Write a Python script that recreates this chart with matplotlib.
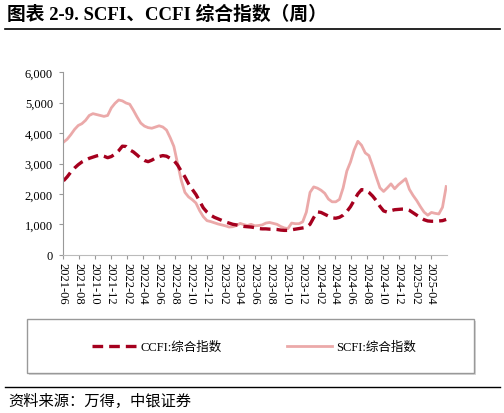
import numpy as np
import pandas as pd
import matplotlib
matplotlib.use("Agg")
import matplotlib.pyplot as plt
from matplotlib.patches import Rectangle
from matplotlib.lines import Line2D
from matplotlib.ticker import FuncFormatter

# fonts: serif latin, CJK fallback
FONTS = ['Liberation Serif', 'Noto Sans CJK SC', 'DejaVu Sans']
plt.rcParams['font.family'] = FONTS

# biweekly readings, 2021-06-04 .. 2025-05-30
dates = pd.date_range(start='2021-06-04', periods=105, freq='14D')

scfi = [3700, 3800, 3950, 4120, 4250, 4310, 4420, 4580, 4640, 4610,
        4580, 4550, 4580, 4830, 4980, 5090, 5060, 4990, 4950, 4750,
        4530, 4330, 4230, 4180, 4160, 4200, 4240, 4200, 4100, 3850,
        3560, 3000, 2450, 2050, 1900, 1810, 1700, 1450, 1250, 1120,
        1090, 1050, 1010, 980, 950, 910, 920, 960, 1030, 990,
        960, 1000, 950, 960, 980, 1040, 1060, 1030, 1000, 930,
        880, 860, 1040, 1020, 1020, 1080, 1400, 2050, 2230, 2190,
        2120, 2020, 1830, 1740, 1740, 1820, 2200, 2750, 3050, 3450,
        3730, 3600, 3350, 3260, 2920, 2550, 2200, 2080, 2200, 2330,
        2170, 2300, 2400, 2500, 2150, 1950, 1780, 1580, 1400, 1300,
        1390, 1360, 1340, 1560, 2240]

ccfi = [2430, 2560, 2720, 2850, 2960, 3050, 3110, 3170, 3210, 3250,
        3280, 3240, 3190, 3230, 3310, 3420, 3570, 3560, 3450, 3380,
        3280, 3170, 3100, 3060, 3110, 3180, 3230, 3260, 3240, 3170,
        3100, 2950, 2750, 2560, 2330, 2150, 1980, 1760, 1540, 1400,
        1300, 1230, 1180, 1130, 1080, 1040, 1000, 980, 950, 930,
        920, 910, 890, 860, 850, 850, 840, 840, 830, 810,
        800, 800, 820, 840, 860, 880, 900, 1000, 1220, 1410,
        1390, 1330, 1270, 1210, 1200, 1230, 1300, 1420, 1580, 1790,
        2000, 2140, 2130, 2050, 1930, 1780, 1590, 1440, 1400, 1450,
        1480, 1490, 1500, 1500, 1460, 1380, 1300, 1220, 1150, 1110,
        1100, 1100, 1110, 1120, 1160]

tick_labels = ['2021-06', '2021-08', '2021-10', '2021-12', '2022-02', '2022-04',
               '2022-06', '2022-08', '2022-10', '2022-12', '2023-02', '2023-04',
               '2023-06', '2023-08', '2023-10', '2023-12', '2024-02', '2024-04',
               '2024-06', '2024-08', '2024-10', '2024-12', '2025-02', '2025-04']

ccfi_color = '#A5001E'
scfi_color = '#EBA9A9'

fig = plt.figure(figsize=(5.04, 4.14), dpi=100)
W, H = 504, 414

# title + rules
fig.text(7 / W, 1 - 15 / H, '图表 2-9. SCFI、CCFI 综合指数（周）', fontsize=13.5,
         fontweight='bold', va='center', ha='left', family=FONTS)
fig.add_artist(Line2D([5 / W, 500 / W], [1 - 30 / H, 1 - 30 / H], color='black', lw=1.2))
fig.add_artist(Line2D([5 / W, 500 / W], [1 - 388 / H, 1 - 388 / H], color='black', lw=1.0))
fig.text(8 / W, 1 - 401 / H, '资料来源：万得，中银证券', fontsize=11, style='italic',
         va='center', ha='left', family=FONTS)

ax = fig.add_axes([62.7 / W, 1 - 255.7 / H, 384 / W, 182.4 / H])

ax.plot(dates, scfi, color=scfi_color, lw=2.0, solid_joinstyle='round', label='SCFI:综合指数')
ax.plot(dates, ccfi, color=ccfi_color, lw=2.4, ls=(0, (3.2, 1.8)), label='CCFI:综合指数')

ax.set_ylim(0, 6000)
ax.set_yticks(range(0, 6001, 1000))
ax.yaxis.set_major_formatter(FuncFormatter(lambda v, p: f'{int(v):,}'))
ax.set_xlim(pd.Timestamp('2021-06-01'), dates[-1] + pd.Timedelta(days=2))

tick_pos = [pd.Timestamp(t + '-01') for t in tick_labels]
ax.set_xticks(tick_pos)
ax.set_xticklabels(tick_labels, rotation=270, fontsize=9)
ax.tick_params(axis='y', labelsize=9, length=3, color='#999999', pad=4)
ax.tick_params(axis='x', length=3, color='#999999', pad=2)

for s in ['top', 'right']:
    ax.spines[s].set_visible(False)
ax.spines['left'].set_color('#999999')
ax.spines['bottom'].set_color('#BBBBBB')

# legend box with light shadow
fig.add_artist(Rectangle((29 / W, 1 - 376 / H), 447 / W, 54 / H, transform=fig.transFigure,
                         facecolor='#D8D8D8', edgecolor='none', zorder=1))
fig.add_artist(Rectangle((27 / W, 1 - 374 / H), 447 / W, 54 / H, transform=fig.transFigure,
                         facecolor='white', edgecolor='#999999', lw=1, zorder=2))

handles = [Line2D([], [], color=ccfi_color, lw=2.4, ls=(0, (3.2, 1.8))),
           Line2D([], [], color=scfi_color, lw=2.0)]
leg = fig.legend(handles, ['CCFI:综合指数', 'SCFI:综合指数'], loc='center',
                 bbox_to_anchor=(254 / W, 1 - 348 / H), ncol=2, frameon=False,
                 fontsize=9, handlelength=3.6, handletextpad=0.3, columnspacing=5.2)
leg.set_zorder(3)

plt.savefig('out.png', dpi=100)
